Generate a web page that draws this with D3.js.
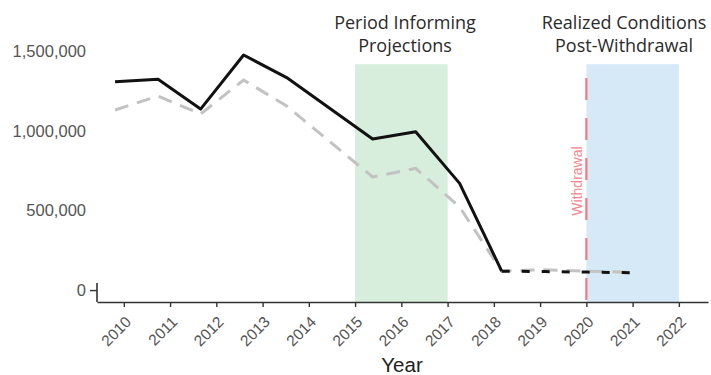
<!DOCTYPE html>
<html><head><meta charset="utf-8">
<script src="https://cdn.jsdelivr.net/npm/d3@7"></script>
<style>body{margin:0;background:#fff}svg{display:block}</style>
</head><body><svg id="c" width="711" height="375"></svg>
<script>
// Data (x positions as fractional years)
const pointYears = [2009.81, 2010.74, 2011.66, 2012.59, 2013.52, 2015.38, 2016.31, 2017.26, 2018.17, 2019.10, 2020.03, 2020.94];
const observed   = [1310000, 1325000, 1138000, 1478000, 1336000, 950000, 996000, 671000, 119000, 116000, 113000, 109000];
const comparison = [1132000, 1220000, 1107000, 1321000, 1157000, 711000, 765000, 522000, 119000, 128000, 119000, 112000];
const solidUntil = 2018.17;
const tickYears = [2010,2011,2012,2013,2014,2015,2016,2017,2018,2019,2020,2021,2022];
const yTicks = [0, 500000, 1000000, 1500000];
const periods = [
  {start: 2015, end: 2017, label: ["Period Informing", "Projections"], color: "#d6eedb"},
  {start: 2020, end: 2022, label: ["Realized Conditions", "Post-Withdrawal"], color: "#d5eaf6"}
];
const withdrawalYear = 2020;
const shadeTop = 1420000;

const svg = d3.select("#c");
const x = d3.scaleLinear().domain([2009.42, 2022.63]).range([97, 708]);
const y = d3.scaleLinear().domain([-75000, 1500000]).range([302, 51.5]);

// shaded periods
svg.selectAll("rect.period").data(periods).join("rect")
  .attr("x", d => x(d.start)).attr("width", d => x(d.end) - x(d.start))
  .attr("y", y(shadeTop)).attr("height", y(-75000) - y(shadeTop))
  .attr("fill", d => d.color);

// period labels
const centers = [405, 624];
periods.forEach((p, i) => {
  const t = svg.append("text").attr("text-anchor", "middle")
    .attr("font-family", "'Open Sans', sans-serif").attr("font-size", 18)
    .attr("fill", "#2b2b2b");
  p.label.forEach((l, j) => t.append("tspan").attr("x", centers[i]).attr("y", 29 + j * 23).text(l));
});

// withdrawal line
svg.append("line").attr("x1", x(withdrawalYear)).attr("x2", x(withdrawalYear))
  .attr("y1", y(-75000) - 2).attr("y2", y(shadeTop))
  .attr("stroke", "#f07b82").attr("stroke-width", 2.2).attr("stroke-dasharray", "22,18");
svg.append("text").attr("transform", `translate(${x(withdrawalYear) - 4},${181}) rotate(-90)`)
  .attr("text-anchor", "middle").attr("font-family", "'Liberation Sans', Arial, sans-serif")
  .attr("font-size", 14).attr("fill", "#f4868c").text("Withdrawal");

// lines
const pts = (vals) => pointYears.map((yr, i) => [yr, vals[i]]);
const line = d3.line().x(d => x(d[0])).y(d => y(d[1]));
const grayPts = pts(comparison);
svg.append("path").attr("d", line(grayPts)).attr("fill", "none")
  .attr("stroke", "#c2c2c2").attr("stroke-width", 3).attr("stroke-dasharray", "14,9");
const obs = pts(observed);
svg.append("path").attr("d", line(obs.filter(d => d[0] <= solidUntil))).attr("fill", "none")
  .attr("stroke", "#111").attr("stroke-width", 3).attr("stroke-linejoin", "round");
svg.append("path").attr("d", line(obs.filter(d => d[0] >= solidUntil))).attr("fill", "none")
  .attr("stroke", "#111").attr("stroke-width", 3).attr("stroke-dasharray", "8,12");

// x axis
const xAxis = svg.append("g").attr("transform", `translate(0,${y(-75000)})`)
  .call(d3.axisBottom(x).tickValues(tickYears).tickFormat(d3.format("d")).tickSize(5).tickSizeOuter(0));
xAxis.select(".domain").attr("stroke", "#333").attr("stroke-width", 1.6);
xAxis.selectAll(".tick line").attr("stroke", "#333").attr("stroke-width", 1.4);
xAxis.selectAll(".tick text").attr("font-family", "'Liberation Sans', Arial, sans-serif")
  .attr("font-size", 15.5).attr("fill", "#555")
  .attr("text-anchor", "end").attr("x", 0).attr("y", 0).attr("dx", 0).attr("dy", "0.35em")
  .attr("transform", "translate(4,17) rotate(-45)");

// y axis
const yAxis = svg.append("g").attr("transform", `translate(97,0)`)
  .call(d3.axisLeft(y).tickValues(yTicks).tickFormat(d3.format(",")).tickSize(7).tickSizeOuter(0).tickPadding(4));
yAxis.select(".domain").remove();
yAxis.selectAll(".tick").filter(d => d !== 0).select("line").remove();
yAxis.selectAll(".tick line").attr("stroke", "#333").attr("stroke-width", 1.4);
yAxis.selectAll(".tick text").attr("font-family", "'Liberation Sans', Arial, sans-serif")
  .attr("font-size", 16.5).attr("fill", "#555");
svg.append("line").attr("x1", 97).attr("x2", 97).attr("y1", y(0) - 7).attr("y2", y(-75000))
  .attr("stroke", "#333").attr("stroke-width", 1.6);

// x title
svg.append("text").attr("x", 402).attr("y", 372).attr("text-anchor", "middle")
  .attr("font-family", "'Liberation Sans', Arial, sans-serif").attr("font-size", 20.5)
  .attr("fill", "#222").text("Year");
</script></body></html>
